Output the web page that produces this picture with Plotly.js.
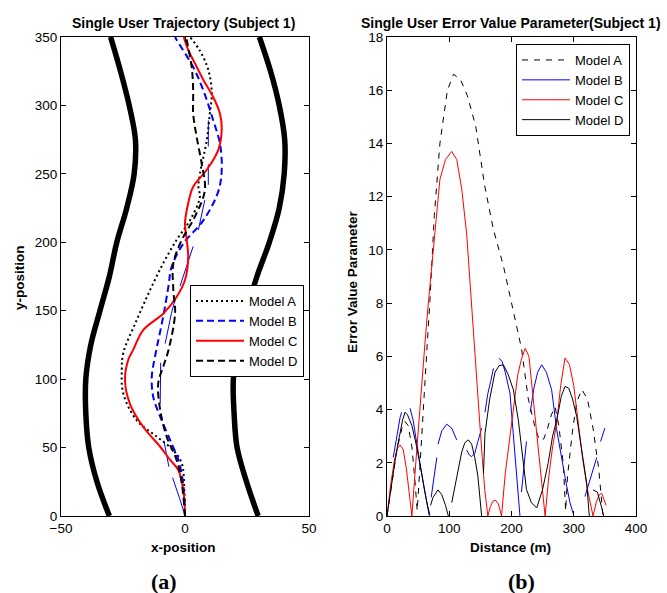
<!DOCTYPE html>
<html><head><meta charset="utf-8">
<script src="https://cdn.plot.ly/plotly-3.0.1.min.js"></script>
<style>html,body{margin:0;padding:0;background:#fff}#c{width:667px;height:593px}</style>
</head><body><div id="c"></div>
<script>
// ---------- Left chart: road boundaries ----------
const boundY = [0,25,50,75,100,125,150,175,200,225,250,275,300,325,350];
const leftBoundX = [-30.5,-35.5,-38.8,-40,-40,-38,-34.3,-30.5,-27.5,-23.5,-20.5,-20,-22.5,-26,-30];
const rightBoundX = [29.5,24.8,21,19.8,19.5,21.5,25,29,34,38,40,40.2,38,34.5,30];

// ---------- Left chart: trajectories ----------
const trajA_y = [0,20,38.5,48,58,70,89.6,106.7,119,143,165,184.6,201.7,216,233,240.6,250,274.7,294,309,326,340,350];
const trajA_x = [0,-0.3,-1.3,-4.7,-11.4,-19.5,-24.9,-25.5,-24.9,-19.5,-14.1,-8.8,-3.4,2,6,5.4,6,8.8,10,10.8,9.4,6,2];
const trajB_y = [0,20,40,53,72.6,87,101.8,116.4,145.6,167.5,182,199,216,237,252.8,272,289,311,328,348,350];
const trajB_x = [0,-0.5,-2.5,-5.4,-10,-12.8,-13.4,-12.1,-8.8,-6.7,-5.4,-0.7,7.4,13.4,14.8,14.1,11.4,7.4,3.3,-3.4,-4];
const trajC_y = [0,19,33.6,41,50.6,65,82,99.4,114,121,136,148,160,172.4,189.5,201.7,214,228.5,240.6,252.8,267.4,282,294,306,318.6,328.3,340.5,350];
const trajC_x = [0,-0.7,-2.7,-6,-10,-16.8,-22.2,-24.2,-22.9,-21,-16.8,-8.7,-3.4,0,1.3,0.7,0,1.3,3.3,8.7,13.4,14.8,14.1,11.4,7.4,4.7,1.3,-0.5];
const trajD_y = [0,23.9,41,58,77.5,97,109,121,148,165,184.6,201.7,218.7,238,257.7,277,294,311,328,347.8,350];
const trajD_x = [0,-1.3,-3.4,-7.4,-10,-10.8,-8.8,-6.7,-4,-4.7,-4.7,-1.3,4,8,6.7,4.7,3.3,3.3,2.7,0.7,0.5];
// thin blue fragments
const thinB_y = [0,12,28,null,36,55,null,82,112,null,126,148,158,null,168,185,197,null,209,222,231,null,242,257,null,270,289];
const thinB_x = [0,-2,-5,null,-6.5,-8.5,null,-10,-9.8,null,-8,-5.5,-4,null,-2,1,3.3,null,5.4,7,8,null,9.4,9.4,null,9.4,9.4];

// ---------- Right chart: error value parameter ----------
const errA_x = [0,8,16,24,29,34,40,45,48.5,52,56,61,65,69,76,85,97,107,118,129,142.5,157,171,187,203,216,227,238,245,252,258,264,270,276,283,287,290,298,305,313,322,331,340,347];
const errA_y = [0,1.3,2.5,3.3,3.55,3.4,2.6,1.3,0.2,1.5,3.2,5.0,6.6,8.1,11.3,14.0,16.0,16.6,16.4,15.8,14.65,12.4,10.76,9.4,7.75,6.3,4.4,3.3,2.85,2.9,3.3,3.8,4.1,3.4,2.0,0.2,1.5,3.2,4.3,4.75,4.4,3.3,1.8,0];
const errB_x = [10,14,18,21,23.6,null,37,42,48,54,60,65,69,null,71,76,80,null,82,88,96,104,112,null,128,132,136,141,146,152,null,157.4,162,167,171,null,180,185,190,197.6,200,205,210,213.6,null,216,220,224,null,230,236,242,248.5,256,264.5,272.6,280,288,294,299,null,318,325,331,337,null,343,347,350];
const errB_y = [2.2,2.8,3.3,3.7,3.9,null,4.05,3.6,2.7,1.8,1.0,0.4,0.05,null,0.7,1.6,2.2,null,2.7,3.2,3.45,3.3,2.86,null,2.48,2.3,2.23,2.35,2.8,3.3,null,3.9,4.6,5.1,5.55,null,5.93,5.8,5.4,4.6,3.9,2.5,1.2,0,null,0.9,1.8,2.8,null,3.9,4.8,5.4,5.68,5.4,4.74,3.24,2.2,1.2,0.5,0.1,null,0.73,1.3,1.8,2.2,null,2.8,3.1,3.3];
const errC_x = [0,6,12,17,21,26,31,36,40,44,48,52,55.7,61,66,74.5,85,94,104,112,120,128,134,140,145,149,153,157,162,166,170,174,179,184,190,200,210,216,222,228,238,246,254,260,266,272.6,279,286,293,300,307,314,322,331,336,341,345,349,352];
const errC_y = [0,1.2,2.1,2.55,2.67,2.5,1.8,0.9,0,1.3,2.6,3.8,5.1,6.5,7.9,10,12.65,13.4,13.7,13.4,12.3,10.6,8.5,6.25,4.8,3.5,2.2,1.0,0,0.35,0.55,0.6,0.45,0,1.6,3.5,5.3,5.9,6.3,6.0,3.6,1.8,0,1.5,2.6,3.5,4.9,5.94,5.7,4.9,3.5,2.2,1.0,0,0.5,0.8,0.85,0.6,0.4];
const errD_x = [0,5,10,15,20,25,29,33,40,47.7,54,60,64,68,null,70,74,82,88,94,98.5,null,104,109,115,120,125,130.6,136,141,146,152,null,155,157.4,165,173.5,180,187,195,203,211,218,224,232,240.5,250,259,266,272.6,280,286,292,298,304.7,312,320.8,325,null,331,338,345,348];
const errD_y = [0,0.8,1.6,2.4,3.0,3.6,3.9,3.8,3.4,2.6,1.8,1.0,0.5,0,null,0.4,0.7,0.98,0.8,0.4,0,null,0.5,1.1,1.8,2.4,2.75,2.86,2.7,2.2,1.5,0,null,1.6,3.1,4.4,5.4,5.65,5.68,5.3,4.74,3.6,2.2,1.0,0.5,0.3,1.0,2.0,3.0,3.6,4.5,4.87,4.8,4.4,3.74,2.6,1.23,0,null,0.98,0.9,0.3,0];

const modelNames = ['Model A','Model B','Model C','Model D'];

const FONT = 'Liberation Sans, Arial, sans-serif';

const traces = [
  {x:leftBoundX, y:boundY, xaxis:'x', yaxis:'y', mode:'lines', line:{color:'#000', width:5.5, shape:'spline'}, showlegend:false, hoverinfo:'skip'},
  {x:rightBoundX, y:boundY, xaxis:'x', yaxis:'y', mode:'lines', line:{color:'#000', width:5.5, shape:'spline'}, showlegend:false, hoverinfo:'skip'},
  {x:thinB_x, y:thinB_y, xaxis:'x', yaxis:'y', mode:'lines', line:{color:'#0000ff', width:1}, showlegend:false, connectgaps:false},
  {x:trajA_x, y:trajA_y, xaxis:'x', yaxis:'y', mode:'lines', name:modelNames[0], legend:'legend', line:{color:'#000', width:2, dash:'2px,3px', shape:'spline'}},
  {x:trajB_x, y:trajB_y, xaxis:'x', yaxis:'y', mode:'lines', name:modelNames[1], legend:'legend', line:{color:'#0000ff', width:2, dash:'7px,4px', shape:'spline'}},
  {x:trajC_x, y:trajC_y, xaxis:'x', yaxis:'y', mode:'lines', name:modelNames[2], legend:'legend', line:{color:'#ff0000', width:2, shape:'spline'}},
  {x:trajD_x, y:trajD_y, xaxis:'x', yaxis:'y', mode:'lines', name:modelNames[3], legend:'legend', line:{color:'#000', width:2, dash:'7px,4px', shape:'spline'}},

  {x:errA_x, y:errA_y, xaxis:'x2', yaxis:'y2', mode:'lines', name:modelNames[0], legend:'legend2', line:{color:'#000', width:1, dash:'6px,6px'}},
  {x:errB_x, y:errB_y, xaxis:'x2', yaxis:'y2', mode:'lines', name:modelNames[1], legend:'legend2', line:{color:'#0000ff', width:1}, connectgaps:false},
  {x:errC_x, y:errC_y, xaxis:'x2', yaxis:'y2', mode:'lines', name:modelNames[2], legend:'legend2', line:{color:'#ff0000', width:1}},
  {x:errD_x, y:errD_y, xaxis:'x2', yaxis:'y2', mode:'lines', name:modelNames[3], legend:'legend2', line:{color:'#000', width:1}, connectgaps:false}
];

const W = 667, H = 593;
const axBase = {showline:true, mirror:'ticks', ticks:'inside', ticklen:5, tickcolor:'#000', linecolor:'#000', linewidth:1,
  showgrid:false, zeroline:false, tickfont:{family:FONT, size:13.5, color:'#000'}, fixedrange:true};
const yDom = [1-516/H, 1-37/H];

function ann(text, px, py, size, extra) {
  return Object.assign({text:text, x:px/W, y:1-py/H, xref:'paper', yref:'paper', xanchor:'center', yanchor:'middle',
    showarrow:false, font:{family:FONT, size:size, color:'#000'}}, extra || {});
}

const layout = {
  width:W, height:H, margin:{l:0,r:0,t:0,b:0}, paper_bgcolor:'#fff', plot_bgcolor:'#fff',
  font:{family:FONT, color:'#000'},
  xaxis: Object.assign({}, axBase, {domain:[61/W, 309/W], range:[-50,50], tickvals:[-50,0,50], anchor:'y'}),
  yaxis: Object.assign({}, axBase, {domain:yDom, range:[0,350], dtick:50, anchor:'x'}),
  xaxis2: Object.assign({}, axBase, {domain:[387/W, 636/W], range:[0,400], dtick:100, anchor:'y2'}),
  yaxis2: Object.assign({}, axBase, {domain:yDom, range:[0,18], dtick:2, anchor:'x2'}),
  legend: {x:190/W, y:1-285/H, xanchor:'left', yanchor:'top', bgcolor:'#fff', bordercolor:'#000', borderwidth:1,
    font:{family:FONT, size:13, color:'#000'}, tracegroupgap:0, itemwidth:48},
  legend2: {x:516/W, y:1-44/H, xanchor:'left', yanchor:'top', bgcolor:'#fff', bordercolor:'#000', borderwidth:1,
    font:{family:FONT, size:13, color:'#000'}, tracegroupgap:0, itemwidth:48},
  showlegend:true,
  annotations:[
    ann('<b>Single User Trajectory (Subject 1)</b>', 183, 23, 14),
    ann('<b>Single User Error Value Parameter(Subject 1)</b>', 511, 23, 14),
    ann('<b>x-position</b>', 183, 547, 13.5),
    ann('<b>Distance (m)</b>', 510, 547, 13.5),
    ann('<b>y-position</b>', 19, 278, 13.5, {textangle:-90}),
    ann('<b>Error Value Parameter</b>', 352, 282, 13.5, {textangle:-90}),
    ann('<b>(a)</b>', 164, 581, 22, {font:{family:'Liberation Serif, Times New Roman, serif', size:22, color:'#000'}}),
    ann('<b>(b)</b>', 521, 581, 22, {font:{family:'Liberation Serif, Times New Roman, serif', size:22, color:'#000'}})
  ]
};

Plotly.newPlot('c', traces, layout, {displayModeBar:false, staticPlot:true});
</script>
</body></html>
